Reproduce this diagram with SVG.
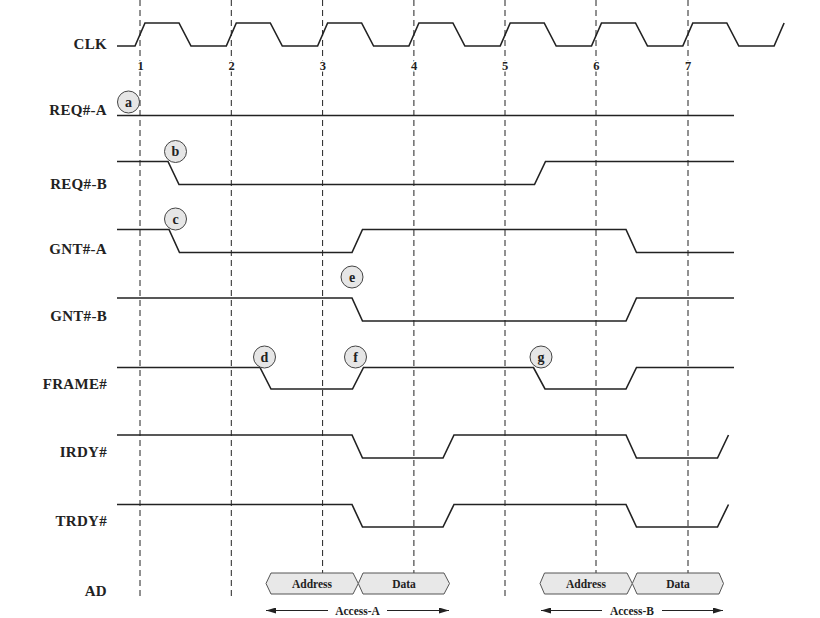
<svg xmlns="http://www.w3.org/2000/svg" width="820" height="618" viewBox="0 0 820 618">
<defs>
<marker id="ah" viewBox="0 0 10 6" refX="10" refY="3" markerWidth="10" markerHeight="6" markerUnits="userSpaceOnUse" orient="auto-start-reverse">
<path d="M0,0 L10,3 L0,6 Z" fill="#222"/>
</marker>
</defs>
<style>
.lbl{font-family:"Liberation Serif","Times New Roman",serif;font-weight:bold;font-size:15px;fill:#222;text-anchor:end;letter-spacing:0.3px}
.num{font-family:"Liberation Serif","Times New Roman",serif;font-weight:bold;font-size:12.5px;fill:#222;text-anchor:middle;stroke:#fff;stroke-width:3;paint-order:stroke}
.sig{fill:none;stroke:#222;stroke-width:1.6;stroke-linejoin:miter}
.grid{stroke:#222;stroke-width:1;stroke-dasharray:6,4}
.mk circle{fill:#e6e6e6;stroke:#444;stroke-width:1}
.mk text{font-family:"Liberation Serif","Times New Roman",serif;font-weight:bold;font-size:14px;fill:#222;text-anchor:middle}
.box{fill:#e8e8e8;stroke:#555;stroke-width:1}
.btx{font-family:"Liberation Serif","Times New Roman",serif;font-weight:bold;font-size:11.5px;fill:#222;text-anchor:middle}
.arr{stroke:#222;stroke-width:1.2;fill:none}
</style>
<rect width="820" height="618" fill="#fff"/>

<g id="grid">
<line class="grid" x1="140" y1="0" x2="140" y2="596"/>
<line class="grid" x1="231.3" y1="0" x2="231.3" y2="596"/>
<line class="grid" x1="322.6" y1="0" x2="322.6" y2="573"/>
<line class="grid" x1="413.9" y1="0" x2="413.9" y2="573"/>
<line class="grid" x1="505" y1="0" x2="505" y2="596"/>
<line class="grid" x1="596" y1="0" x2="596" y2="573"/>
<line class="grid" x1="688" y1="0" x2="688" y2="573"/>
</g>

<g id="clock-numbers">
<text class="num" x="140.5" y="70">1</text>
<text class="num" x="231.5" y="70">2</text>
<text class="num" x="322.8" y="70">3</text>
<text class="num" x="414" y="70">4</text>
<text class="num" x="505.2" y="70">5</text>
<text class="num" x="596.3" y="70">6</text>
<text class="num" x="688" y="70">7</text>
</g>

<g id="labels">
<text class="lbl" x="107" y="49">CLK</text>
<text class="lbl" x="107" y="115">REQ#-A</text>
<text class="lbl" x="107" y="189">REQ#-B</text>
<text class="lbl" x="107" y="254">GNT#-A</text>
<text class="lbl" x="107" y="321">GNT#-B</text>
<text class="lbl" x="107" y="389">FRAME#</text>
<text class="lbl" x="107" y="457">IRDY#</text>
<text class="lbl" x="107" y="526">TRDY#</text>
<text class="lbl" x="107" y="596">AD</text>
</g>

<g id="signals">
<path id="clk" class="sig" d="M117,46 H135 L145,23 H179 L191,46 H226.3 L236.3,23 H270.3 L282.3,46 H317.6 L327.6,23 H361.6 L373.6,46 H408.9 L418.9,23 H452.9 L464.9,46 H500.2 L510.2,23 H544.2 L556.2,46 H591.5 L601.5,23 H635.5 L647.5,46 H682.8 L692.8,23 H726.8 L738.8,46 H774.1 L784.1,23"/>
<path id="req-a" class="sig" d="M117,115.5 H734"/>
<path id="req-b" class="sig" d="M117,161.5 H168 L179,184.5 H534.5 L545.5,161.5 H734"/>
<path id="gnt-a" class="sig" d="M117,229.5 H169 L179.5,252.5 H352 L362.5,229.5 H626 L636.5,252.5 H734"/>
<path id="gnt-b" class="sig" d="M117,298 H352 L362.5,321 H626 L636.5,298 H734"/>
<path id="frame" class="sig" d="M117,367.5 H260 L271,389 H352.5 L363.5,367.5 H533.5 L545,389 H626 L636.5,367.5 H734"/>
<path id="irdy" class="sig" d="M117,435 H352 L362.5,458 H443 L454,435 H626 L636.5,458 H717.5 L728.5,435"/>
<path id="trdy" class="sig" d="M117,504.5 H352 L362.5,527 H443 L454,504.5 H626 L636.5,527 H717.5 L728.5,504.5"/>
</g>

<g id="marker-a" class="mk"><circle cx="128.5" cy="102" r="11"/><text x="128.5" y="106.5">a</text></g>
<g id="marker-b" class="mk"><circle cx="175.5" cy="151.5" r="11"/><text x="175.5" y="156">b</text></g>
<g id="marker-c" class="mk"><circle cx="175.5" cy="219" r="11"/><text x="175.5" y="223.5">c</text></g>
<g id="marker-e" class="mk"><circle cx="352" cy="277" r="11"/><text x="352" y="281.5">e</text></g>
<g id="marker-d" class="mk"><circle cx="264.5" cy="357" r="11"/><text x="264.5" y="361.5">d</text></g>
<g id="marker-f" class="mk"><circle cx="355.5" cy="357" r="11"/><text x="355.5" y="361.5">f</text></g>
<g id="marker-g" class="mk"><circle cx="541" cy="357" r="11"/><text x="541" y="361.5">g</text></g>

<g id="ad-address-a">
<polygon class="box" points="266,583.5 271,573 353,573 358.3,583.5 353,594 271,594"/>
<text class="btx" x="312" y="587.5">Address</text>
</g>
<g id="ad-data-a">
<polygon class="box" points="358.3,583.5 363,573 444,573 449.5,583.5 444,594 363,594"/>
<text class="btx" x="404" y="587.5">Data</text>
</g>
<g id="ad-address-b">
<polygon class="box" points="540,583.5 544.5,573 627,573 632.3,583.5 627,594 544.5,594"/>
<text class="btx" x="586" y="587.5">Address</text>
</g>
<g id="ad-data-b">
<polygon class="box" points="632.3,583.5 637,573 719,573 723.5,583.5 719,594 637,594"/>
<text class="btx" x="678" y="587.5">Data</text>
</g>

<g id="access-a">
<line class="arr" x1="328" y1="610.5" x2="266" y2="610.5" marker-end="url(#ah)"/>
<line class="arr" x1="387" y1="610.5" x2="449" y2="610.5" marker-end="url(#ah)"/>
<text class="btx" x="357.5" y="614.5">Access-A</text>
</g>
<g id="access-b">
<line class="arr" x1="602" y1="610.5" x2="541" y2="610.5" marker-end="url(#ah)"/>
<line class="arr" x1="662" y1="610.5" x2="723" y2="610.5" marker-end="url(#ah)"/>
<text class="btx" x="632" y="614.5">Access-B</text>
</g>
</svg>
